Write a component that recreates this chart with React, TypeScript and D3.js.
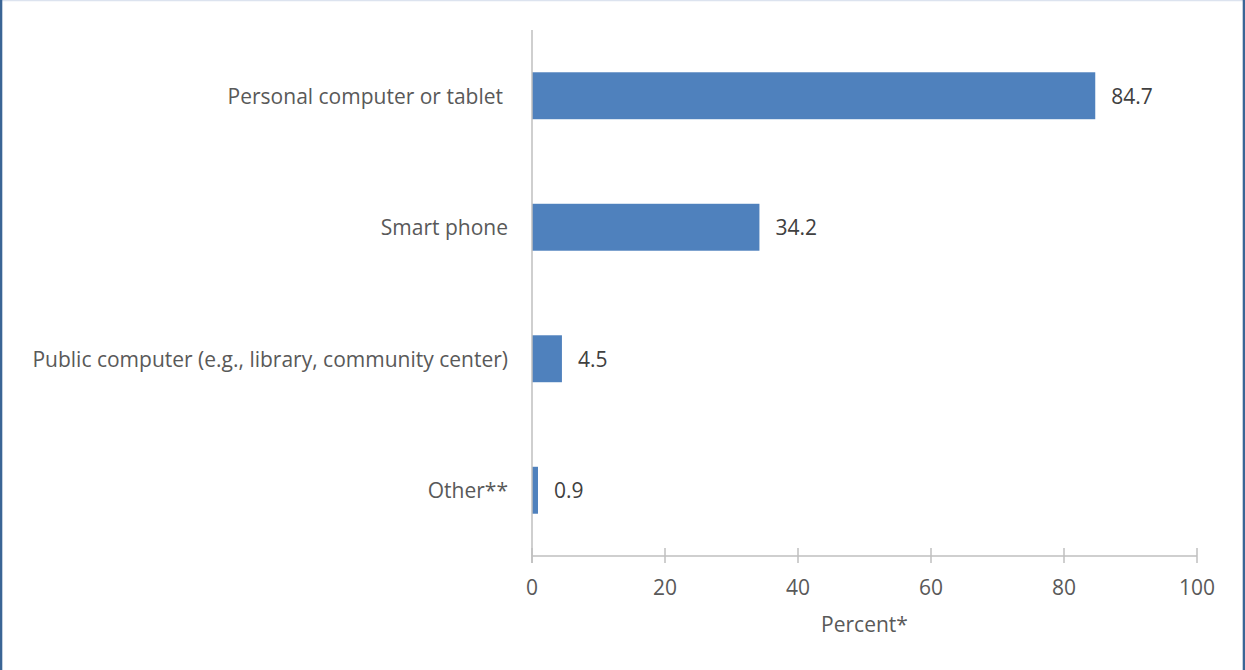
import React from "react";
import * as d3 from "d3";

const categories = [
  "Personal computer or tablet",
  "Smart phone",
  "Public computer (e.g., library, community center)",
  "Other**",
];
const values = [84.7, 34.2, 4.5, 0.9];
const valueLabels = ["84.7", "34.2", "4.5", "0.9"];
const xTicks = [0, 20, 40, 60, 80, 100];
const xTitle = "Percent*";

const W = 1245;
const H = 670;
const FONT = "'Open Sans', sans-serif";
const FS = 21;
const TEXT = "#595959";
const AXIS = "#BFBFBF";

export default function App() {
  const x = d3.scaleLinear().domain([0, 100]).range([532, 1197]);
  const y = d3.scaleBand<string>().domain(categories).range([30, 556]).paddingInner(0.643).paddingOuter(0.3215);
  return (
    <svg width={W} height={H} style={{ position: "absolute", left: 0, top: 0, display: "block" }}>
      <rect x={0} y={0} width={W} height={H} fill="#fff" />
      <line x1={0} x2={W} y1={0.5} y2={0.5} stroke="#DCE3EF" strokeWidth={1.5} />
      <rect x={0} y={0} width={2.3} height={H} fill="#3A6595" />
      <rect x={1242.7} y={0} width={2.3} height={H} fill="#3A6595" />
      {categories.map((c, i) => (
        <rect key={c} x={x(0)} y={y(c)!} width={x(values[i]) - x(0)} height={y.bandwidth()} fill="#4F81BD" />
      ))}
      <line x1={532} x2={532} y1={30} y2={563} stroke={AXIS} strokeWidth={1.5} />
      <line x1={532} x2={1197} y1={556} y2={556} stroke={AXIS} strokeWidth={1.5} />
      {xTicks.map((t) => (
        <g key={t}>
          <line x1={x(t)} x2={x(t)} y1={548} y2={563} stroke={AXIS} strokeWidth={1.5} />
          <text x={x(t)} y={587} textAnchor="middle" dominantBaseline="central" fontFamily={FONT} fontSize={FS} fill={TEXT}>
            {t}
          </text>
        </g>
      ))}
      <text x={864.5} y={624} textAnchor="middle" dominantBaseline="central" fontFamily={FONT} fontSize={FS} fill={TEXT}>
        {xTitle}
      </text>
      {categories.map((c, i) => (
        <text key={c} x={i === 0 ? 503 : 508} y={y(c)! + y.bandwidth() / 2} textAnchor="end" dominantBaseline="central" fontFamily={FONT} fontSize={FS} fill={TEXT}>
          {c}
        </text>
      ))}
      {categories.map((c, i) => (
        <text key={c + "v"} x={x(values[i]) + 16} y={y(c)! + y.bandwidth() / 2} textAnchor="start" dominantBaseline="central" fontFamily={FONT} fontSize={FS} fill="#404040">
          {valueLabels[i]}
        </text>
      ))}
    </svg>
  );
}
